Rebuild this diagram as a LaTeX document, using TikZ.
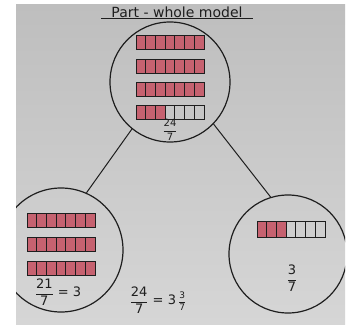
\documentclass[tikz,border=0pt]{standalone}
\usepackage{amsmath}
\usepackage{fontspec}
\setmainfont{DejaVu Sans}
\usepackage{tikz}

\definecolor{pinkred}{RGB}{198,98,112}
\definecolor{papertop}{RGB}{190,190,190}
\definecolor{paperbot}{RGB}{214,214,214}
\definecolor{pen}{RGB}{30,30,30}

\tikzset{
  part/.style={circle, draw=pen, line width=1.2pt, inner sep=0pt},
  link/.style={draw=pen, line width=1pt},
  cell/.style={draw=pen, line width=0.8pt},
  label/.style={text=pen, inner sep=1pt}
}

% x, y (top), filled cells, cell height
\newcommand{\sevenbar}[4]{%
  \foreach \k in {0,...,6}{
    \ifnum\k<#3\relax \fill[pinkred] ({#1+\k*9.7},#2) rectangle ++(9.7,#4);\fi
    \draw[cell] ({#1+\k*9.7},#2) rectangle ++(9.7,#4);
  }}

\begin{document}
\begin{tikzpicture}[x=1pt,y=-1pt]
      \useasboundingbox (0,0) rectangle (350,324);
      \fill[white] (0,0) rectangle (350,324);
      \clip (16,4) rectangle (345,324);
      \shade[top color=papertop, bottom color=paperbot] (16,4) rectangle (345,324);

      \node[label, font=\fontsize{14}{16}\selectfont, inner xsep=10pt] (title) at (177,12) {Part - whole model};
      \draw[link] (title.south west) -- (title.south east);

      \node[part, minimum size=120pt] (whole) at (170,82) {};
      \node[part, minimum size=124pt] (partA) at (61,250) {};
      \node[part, minimum size=118pt] (partB) at (288,254) {};
      \draw[link] (whole.-129) -- (partA.66);
      \draw[link] (whole.-44) -- (partB.107);

      \sevenbar{136}{35}{7}{14}
      \sevenbar{136}{59}{7}{14}
      \sevenbar{136}{82}{7}{14}
      \sevenbar{136}{105}{3}{14}
      \node[label, font=\fontsize{10}{11}\selectfont] (wholefrac) at (170,130) {$\dfrac{\text{24}}{\text{7}}$};

      \sevenbar{27}{213}{7}{14}
      \sevenbar{27}{237}{7}{14}
      \sevenbar{27}{261}{7}{14}
      \node[label, font=\fontsize{13}{15}\selectfont] (partAeq) at (58,292) {$\dfrac{\text{21}}{\text{7}}$ = 3};

      \sevenbar{257}{221}{3}{16}
      \node[label, font=\fontsize{13}{15}\selectfont] (partBfrac) at (292,278) {$\dfrac{\text{3}}{\text{7}}$};

      \node[label, font=\fontsize{13}{15}\selectfont] (total) at (158,300) {$\dfrac{\text{24}}{\text{7}}$ = 3\,{\fontsize{9}{10}\selectfont$\dfrac{\text{3}}{\text{7}}$}};
    \end{tikzpicture}
\end{document}
